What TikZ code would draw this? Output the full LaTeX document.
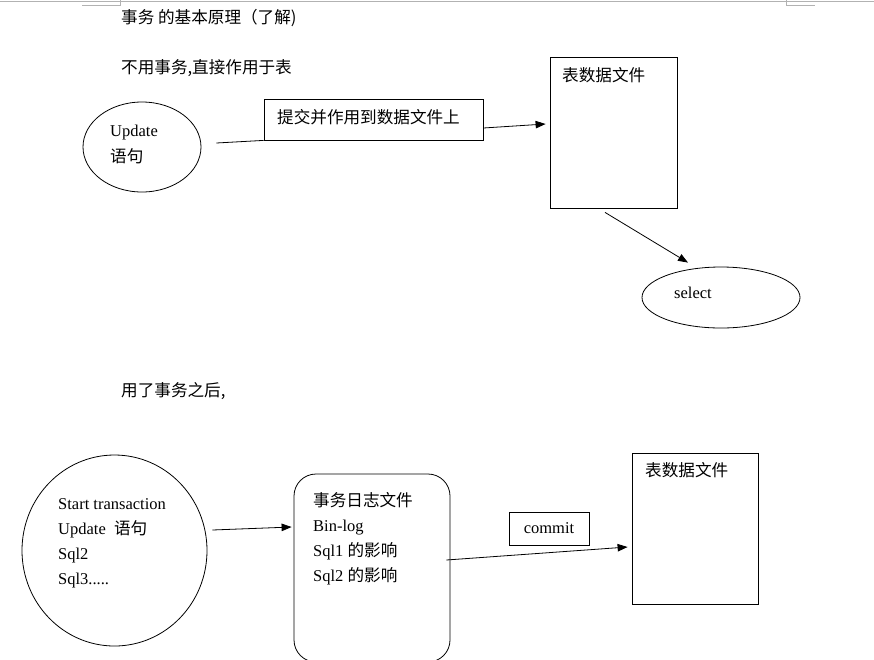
\documentclass[tikz,border=0pt]{standalone}
\usepackage{fontspec}
\setmainfont{Liberation Serif}
\newfontfamily\cjk{Noto Sans CJK SC}
\usetikzlibrary{positioning,arrows.meta,calc,shapes.geometric}

\begin{document}
\begin{tikzpicture}[x=1pt, y=-1pt,
  font=\fontsize{16.5}{25}\selectfont,
  oval/.style={draw, ellipse, line width=0.8pt, inner sep=0pt},
  filebox/.style={draw, line width=0.8pt, inner sep=0pt},
  tagbox/.style={draw, line width=0.8pt, inner sep=0pt},
  lbl/.style={align=left, inner sep=0pt, anchor=north west},
  zh/.style={font=\cjk\fontsize{16.6}{25}\selectfont},
  arr/.style={-{Triangle[length=10pt, width=7.5pt]}, line width=0.8pt},
  pagemark/.style={draw=black!30, line width=1pt},
]
\useasboundingbox (0,0) rectangle (874,659);

% ---- page corner marks ----
\draw[pagemark] (0,1) -- (874,1);
\draw[pagemark] (82,5) -- (120,5) -- (120,0);
\draw[pagemark] (786,0) -- (786,5) -- (815,5);

% ---- headings ----
\node[zh, lbl, anchor=west] (title) at (121,18) {事务\ 的基本原理（了解)};
\node[zh, lbl, anchor=west] (plain) at (121,68) {不用事务,直接作用于表};

% ---- without transaction ----
\node[oval, minimum width=118pt, minimum height=90pt] (upd) at (142,147) {};
\node[lbl, font=\fontsize{16.5}{26}\selectfont] (updtxt) at (110,125)
  {Update\\{\cjk\fontsize{16.6}{26}\selectfont 语句}};

\node[tagbox, minimum width=219pt, minimum height=41pt] (apply) at (373.5,119.5) {};
\node[zh, lbl, anchor=west] (applytxt) at (277,117) {提交并作用到数据文件上};

\node[filebox, minimum width=127pt, minimum height=151pt] (tbl1) at (613.5,132.5) {};
\node[zh, lbl, anchor=west] (tbl1txt) at (562,75) {表数据文件};

\node[oval, minimum width=158pt, minimum height=61pt] (sel) at (721,297.5) {};
\node[lbl, anchor=west] (seltxt) at (674,293) {select};

\draw[line width=0.8pt] ([shift={(15,-4)}]upd.east) -- (apply.south west);
\draw[arr] ([shift={(0,8.5)}]apply.east) -- ([shift={(-4,-8.5)}]tbl1.west);
\draw[arr] ([shift={(-8.5,4)}]tbl1.south) -- ([shift={(-33,-4)}]sel.north);

% ---- with transaction ----
\node[zh, lbl, anchor=west] (after) at (121,391) {用了事务之后,};

\node[oval, minimum width=185pt, minimum height=191pt] (txn) at (114.5,550.5) {};
\node[lbl] (txntxt) at (58,498)
  {Start transaction\\Update\ \ {\cjk\fontsize{16.6}{25}\selectfont 语句}\\Sql2\\Sql3.....};

\node[filebox, rounded corners=22pt, minimum width=156pt, minimum height=188pt] (binlog) at (372,568) {};
\node[lbl] (binlogtxt) at (313,492)
  {{\cjk\fontsize{16.6}{25}\selectfont 事务日志文件}\\Bin-log\\Sql1 {\cjk\fontsize{16.6}{25}\selectfont 的影响}\\Sql2 {\cjk\fontsize{16.6}{25}\selectfont 的影响}};

\node[tagbox, minimum width=80pt, minimum height=33pt] (commit) at (549,528.5) {commit};

\node[filebox, minimum width=126pt, minimum height=151pt] (tbl2) at (695,528.5) {};
\node[zh, lbl, anchor=west] (tbl2txt) at (645,470) {表数据文件};

\draw[arr] ([shift={(5,-20.5)}]txn.east) -- ([shift={(-2,-41)}]binlog.west);
\draw[arr] ([shift={(-4,-8)}]binlog.east) -- ([shift={(-4,18.5)}]tbl2.west);
\end{tikzpicture}
\end{document}
